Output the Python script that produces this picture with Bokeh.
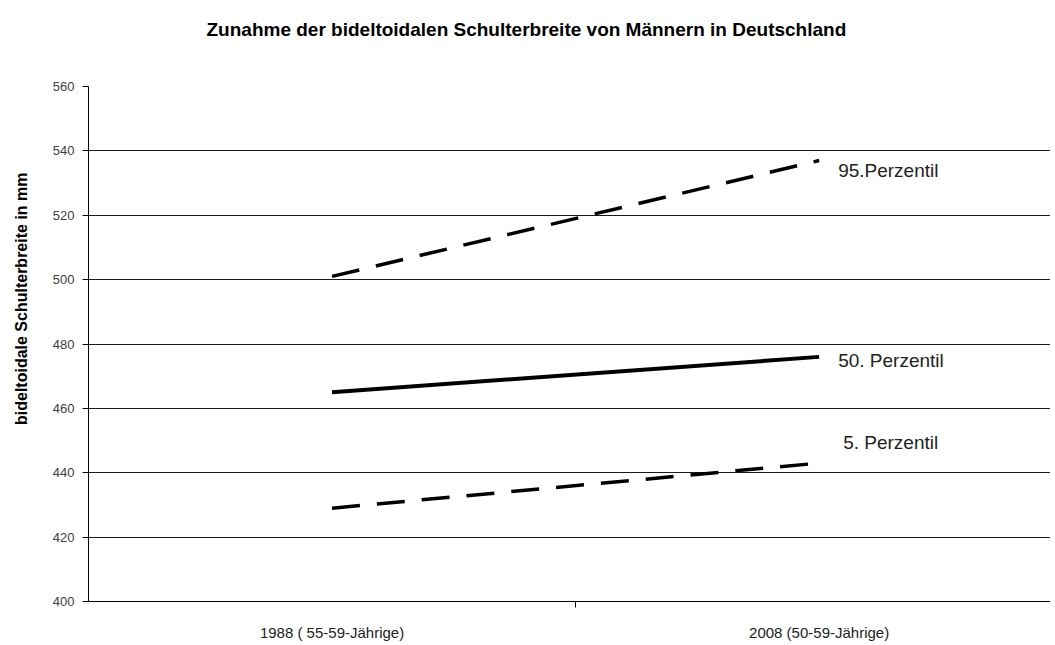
from bokeh.plotting import figure
from bokeh.models import Range1d, FixedTicker, Title, LinearAxis, Grid
from bokeh.core.properties import value
from bokeh.embed import file_html
from bokeh.resources import INLINE

title_text = "Zunahme der bideltoidalen Schulterbreite von Männern in Deutschland"
y_label = "bideltoidale Schulterbreite in mm"
categories = ["1988 ( 55-59-Jährige)", "2008 (50-59-Jährige)"]
p5 = [429, 443]
p50 = [465, 476]
p95 = [501, 537]
series_labels = ["5. Perzentil", "50. Perzentil", "95.Perzentil"]
y_ticks = [400, 420, 440, 460, 480, 500, 520, 540, 560]

FONT = "Liberation Sans"

x_pos = [i + 0.5 for i in range(len(categories))]
separators = [float(i) for i in range(1, len(categories))]

p = figure(width=1050, height=643, output_backend="svg", toolbar_location=None,
           x_range=Range1d(0, 1.975), y_range=Range1d(y_ticks[0], y_ticks[-1]),
           x_axis_type=None, y_axis_type=None,
           min_border_left=88, min_border_right=0, min_border_top=86, min_border_bottom=41)
p.outline_line_color = None
p.background_fill_color = "white"
p.border_fill_color = "white"

# spacer then title (stacked outward from the frame)
p.add_layout(Title(text=" ", text_font_size="30px", standoff=12), "above")
p.add_layout(Title(text=title_text, align="left", offset=118, standoff=0,
                   text_font=FONT, text_font_size="19px", text_font_style="bold",
                   text_color="black"), "above")

# y axis
yaxis = LinearAxis(ticker=FixedTicker(ticks=y_ticks))
yaxis.major_tick_out = 6
yaxis.major_tick_in = 0
yaxis.minor_tick_out = 0
yaxis.minor_tick_in = 0
yaxis.major_label_standoff = 8
yaxis.axis_line_color = "black"
yaxis.major_tick_line_color = "black"
yaxis.major_label_text_font = FONT
yaxis.major_label_text_font_size = "13px"
yaxis.major_label_text_color = "#404040"
p.add_layout(yaxis, "left")

p.add_layout(Title(text=" ", text_font_size="13px", standoff=1), "left")
p.add_layout(Title(text=y_label, align="right", offset=86, text_font=FONT,
                   text_font_size="16px", text_font_style="bold",
                   text_color="black", standoff=4), "left")

# x axis
xaxis = LinearAxis(ticker=FixedTicker(ticks=x_pos, minor_ticks=separators))
xaxis.major_tick_line_color = None
xaxis.major_tick_out = 0
xaxis.major_tick_in = 0
xaxis.minor_tick_out = 6
xaxis.minor_tick_in = 0
xaxis.minor_tick_line_color = "black"
xaxis.axis_line_color = "black"
xaxis.major_label_overrides = {x: c for x, c in zip(x_pos, categories)}
xaxis.major_label_standoff = 16
xaxis.major_label_text_font = FONT
xaxis.major_label_text_font_size = "15px"
xaxis.major_label_text_color = "#222222"
p.add_layout(xaxis, "below")

grid = Grid(dimension=1, ticker=FixedTicker(ticks=y_ticks))
grid.grid_line_color = "#1a1a1a"
grid.grid_line_width = 1
p.add_layout(grid)

p.line(x_pos, p95, line_color="black", line_width=3.5, line_dash="28 17")
p.line(x_pos, p50, line_color="black", line_width=4)
p.line(x_pos, p5, line_color="black", line_width=3.5, line_dash="28 17")

lab_kw = dict(text_font=value(FONT), text_font_size="19px", text_color="#222222",
              text_baseline="middle", text_align="left")
p.text(x=[x_pos[-1]], y=[p5[-1]], text=[series_labels[0]], x_offset=24, y_offset=-21, **lab_kw)
p.text(x=[x_pos[-1]], y=[p50[-1]], text=[series_labels[1]], x_offset=19, y_offset=4, **lab_kw)
p.text(x=[x_pos[-1]], y=[p95[-1]], text=[series_labels[2]], x_offset=19, y_offset=10, **lab_kw)

open("out.html", "w").write(file_html(p, INLINE))
